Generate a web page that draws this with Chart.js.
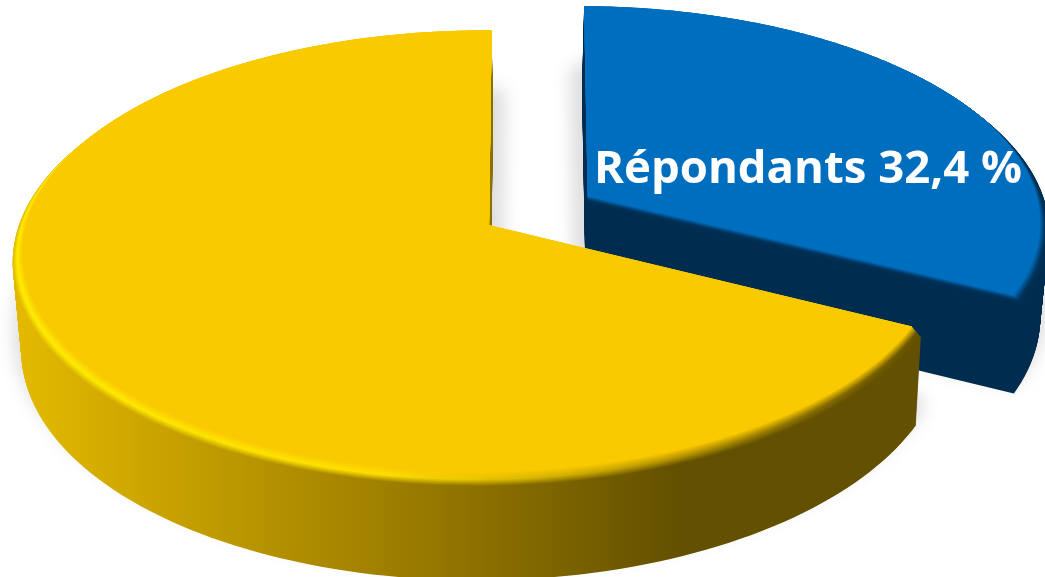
<!DOCTYPE html>
<html lang="fr">
<head>
<meta charset="utf-8">
<title>Répondants</title>
<style>
    html, body { margin: 0; padding: 0; background: #ffffff; overflow: hidden; }
    #box { width: 1045px; height: 577px; }
</style>
<script src="https://cdn.jsdelivr.net/npm/chart.js@4/dist/chart.umd.min.js"></script>
</head>
<body>
<div id="box"><canvas id="pie"></canvas></div>
<script>
const A_labels = ["Répondants", "Non-répondants"];
const A_values = [32.4, 67.6];
const A_faceColors = ["#006EBE", "#FACA00"];
const A_offsets = [64, 0];

// tilted disc: where the unit circle lands on screen
const rx = 465, ry = 222, tiltV = 0.12, tiltU = 0.015, depth = 86;
const baseX = 489, baseY = 225, vanishX = 530;
const faceInset = 0.98, rimDrop = 8;

const A_stopX = [20, 380, 680, 920];
const A_wallRamps = [
    [[0, 44, 79], [0, 44, 79], [0, 44, 79], [0, 44, 79]],
    [[227, 185, 0], [160, 128, 0], [99, 80, 0], [99, 80, 0]]
];
const A_rimRamps = [
    [[0, 50, 90], [0, 50, 90], [0, 50, 90], [0, 50, 90]],
    [[255, 236, 0], [255, 222, 0], [178, 144, 0], [105, 84, 0]]
];

function hexToRgb(S_hex) {
    return [1, 3, 5].map(i => parseInt(S_hex.substr(i, 2), 16));
}

function mix(a, b, t) {
    return "rgb(" + a.map((c, i) => Math.round(c + (b[i] - c) * t)).join(",") + ")";
}

function rampGradient(ctx, A_from, A_to, t) {
    const g = ctx.createLinearGradient(A_stopX[0], 0, A_stopX[3], 0);
    A_stopX.forEach((x, i) => {
        const pos = (x - A_stopX[0]) / (A_stopX[3] - A_stopX[0]);
        g.addColorStop(pos, mix(A_from[i], A_to[i], t));
    });
    return g;
}

// outline of one slice; r scales the radius, wall runs 0..1 down the side, rim adds the bevel drop
function slicePath(ctx, arc, r, wall, rim) {
    const R = arc.outerRadius;
    const mid = (arc.startAngle + arc.endAngle) / 2;
    const f = arc.options.offset / R;
    const ox = baseX + Math.cos(mid) * f * rx;
    const oy = baseY + Math.sin(mid) * f * ry;
    const shrink = 1 - 0.015 * wall;
    const sy = ry * (1 - 0.1 * f);
    const place = (u, v) => {
        const w = 1 - tiltV * v + tiltU * u;
        const lean = (ox - vanishX) * 0.6 * (1 / w - 1) - (ox - vanishX) * 0.035 * wall;
        return [
            ox + shrink * rx * u / w + lean,
            oy + shrink * sy * v / w + (rim + depth * wall) / w
        ];
    };
    const n = 160;
    ctx.beginPath();
    let p = place(0, 0);
    ctx.moveTo(p[0], p[1]);
    for (let i = 0; i <= n; i++) {
        const a = arc.startAngle + (arc.endAngle - arc.startAngle) * i / n;
        p = place(r * Math.cos(a), r * Math.sin(a));
        ctx.lineTo(p[0], p[1]);
    }
    ctx.closePath();
}

const disc3d = {
    id: "disc3d",
    beforeDatasetsDraw(chart) {
        const ctx = chart.ctx;
        const A_arcs = chart.getDatasetMeta(0).data;

        // soft shadow on the page behind both slices
        ctx.save();
        ctx.filter = "blur(9px)";
        ctx.fillStyle = "rgba(0,0,0,0.15)";
        ctx.strokeStyle = "rgba(0,0,0,0.15)";
        ctx.lineWidth = 22;
        ctx.lineJoin = "round";
        A_arcs.forEach(arc => {
            ctx.save();
            ctx.translate(0, -2);
            slicePath(ctx, arc, 0.99, 0.9, 0);
            ctx.stroke();
            ctx.restore();
        });
        ctx.restore();

        A_arcs.forEach((arc, i) => {
            const A_face = hexToRgb(A_faceColors[i]);
            const A_flat = A_stopX.map(() => A_face);

            // side wall, stacked from the bottom edge upwards
            const steps = 110;
            for (let k = steps; k >= 0; k--) {
                ctx.fillStyle = rampGradient(ctx, A_wallRamps[i], A_wallRamps[i], 0);
                slicePath(ctx, arc, 1, k / steps, rimDrop);
                ctx.fill();
            }

            // bevel between the wall and the flat top
            const bevel = 20;
            for (let k = bevel; k >= 0; k--) {
                const s = k / bevel;
                ctx.fillStyle = s > 0.55
                    ? rampGradient(ctx, A_rimRamps[i], A_wallRamps[i], (s - 0.55) / 0.45)
                    : rampGradient(ctx, A_flat, A_rimRamps[i], s / 0.55);
                slicePath(ctx, arc, faceInset + (1 - faceInset) * s, 0, rimDrop * s);
                ctx.fill();
            }

            ctx.fillStyle = A_faceColors[i];
            slicePath(ctx, arc, faceInset, 0, 0);
            ctx.fill();
        });

        ctx.save();
        ctx.font = "700 45.5px 'Open Sans'";
        ctx.fillStyle = "#ffffff";
        ctx.textBaseline = "alphabetic";
        ctx.fillText(A_labels[0] + " " + String(A_values[0]).replace(".", ",") + " %", 594, 183);
        ctx.restore();
        return false;
    }
};

new Chart("pie", {
    type: "pie",
    data: {
        labels: A_labels,
        datasets: [{
            data: A_values,
            backgroundColor: A_faceColors,
            offset: A_offsets,
            borderWidth: 0
        }]
    },
    options: {
        responsive: true,
        maintainAspectRatio: false,
        animation: false,
        plugins: {
            legend: { display: false },
            tooltip: { enabled: false }
        }
    },
    plugins: [disc3d]
});
</script>
</body>
</html>
